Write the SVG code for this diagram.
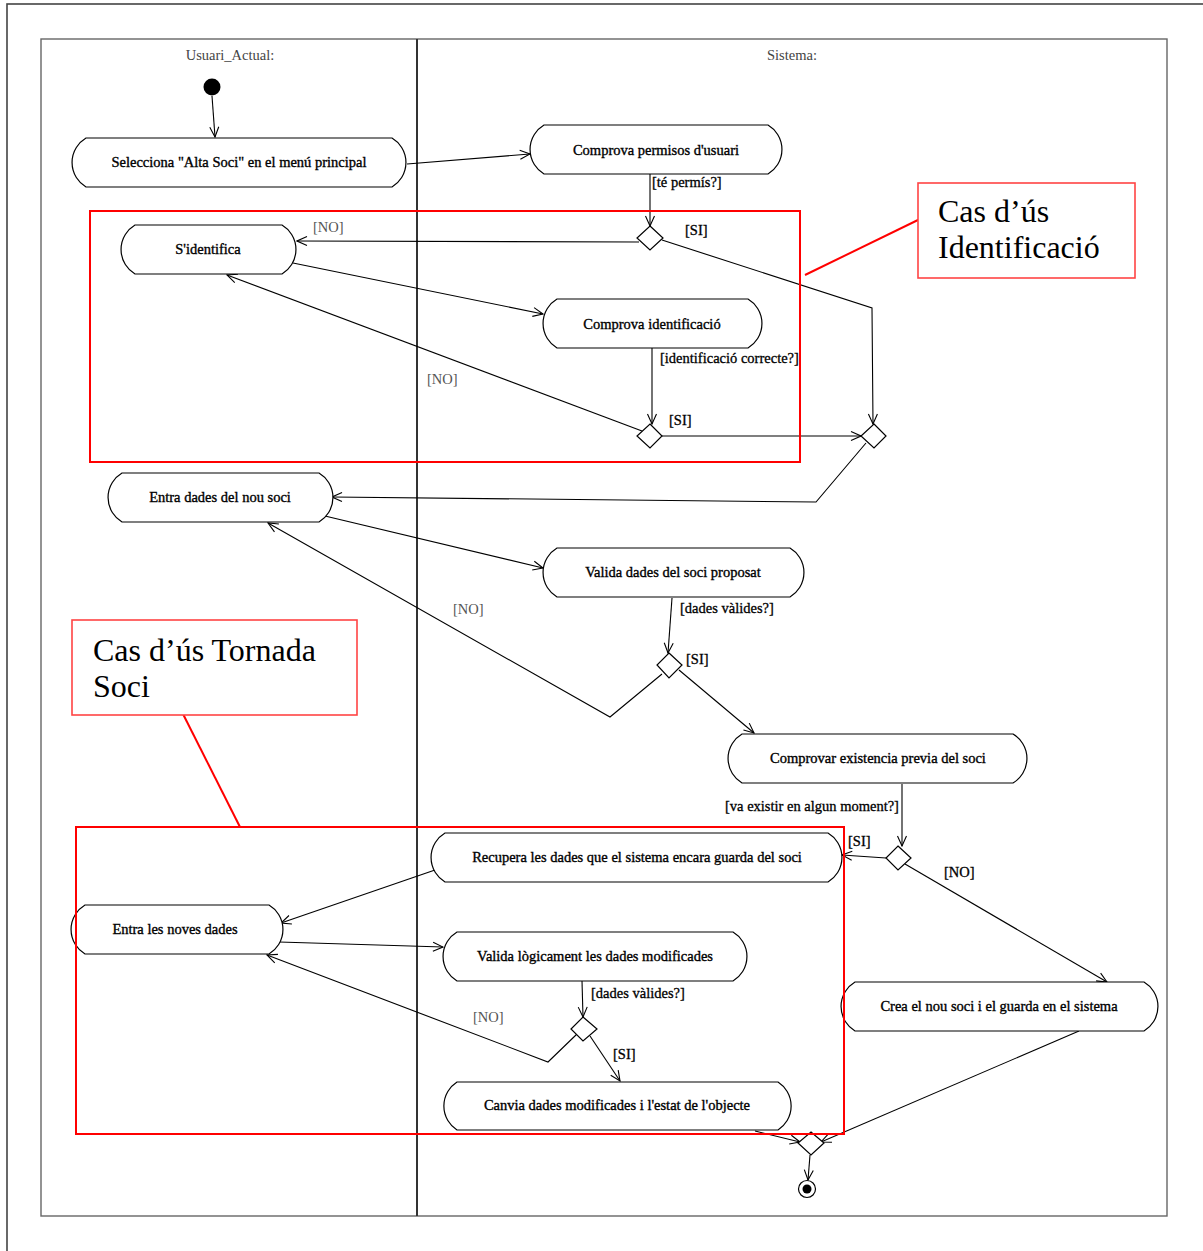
<svg xmlns="http://www.w3.org/2000/svg" width="1203" height="1251" viewBox="0 0 1203 1251">
  <style>
    text { font-family: "Liberation Serif", "Times New Roman", serif; font-size: 14.5px; }
    .lane-title { fill: #444; text-anchor: middle; }
    .label { fill: #000; stroke: #000; stroke-width: 0.35; text-anchor: middle; }
    .guard { fill: #000; stroke: #000; stroke-width: 0.3; }
    .guard-no { fill: #555; }
    .action { fill: #fff; stroke: #000; stroke-width: 1.2; }
    .decision { fill: #fff; stroke: #000; stroke-width: 1.2; }
    .flow { fill: none; stroke: #000; stroke-width: 1.1; marker-end: url(#arrow); }
    .note-box { fill: none; stroke: #f00; stroke-width: 2; }
    .note-text { font-size: 32px; fill: #000; }
  </style>
  <defs>
    <marker id="arrow" viewBox="0 0 12 12" refX="11" refY="6" markerWidth="12" markerHeight="12" markerUnits="userSpaceOnUse" orient="auto">
      <path d="M1,1.5 L11,6 L1,10.5" fill="none" stroke="#000" stroke-width="1.1"/>
    </marker>
  </defs>

  <rect x="0" y="0" width="1203" height="1251" fill="#fff"/>

  <!-- page frame -->
  <rect x="7" y="4" width="1200" height="1252" fill="none" stroke="#444" stroke-width="1.6"/>

  <!-- swimlanes -->
  <g id="swimlanes">
    <rect x="41" y="39" width="1126" height="1177" fill="none" stroke="#666" stroke-width="1.4"/>
    <line x1="417" y1="39" x2="417" y2="1216" stroke="#333" stroke-width="2"/>
    <text class="lane-title" x="230" y="60">Usuari_Actual:</text>
    <text class="lane-title" x="792" y="60">Sistema:</text>
  </g>

  <!-- connectors -->
  <g id="connectors">
    <line class="flow" x1="212" y1="96" x2="215" y2="137"/>
    <line class="flow" x1="407" y1="164" x2="530" y2="154"/>
    <line class="flow" x1="650" y1="174" x2="650" y2="226"/>
    <line class="flow" x1="639" y1="242" x2="297" y2="241"/>
    <polyline class="flow" points="662,240 872,308 873,424"/>
    <line class="flow" x1="293" y1="263" x2="543" y2="314"/>
    <line class="flow" x1="642" y1="431" x2="227" y2="275"/>
    <line class="flow" x1="652" y1="348" x2="652" y2="424"/>
    <line class="flow" x1="662" y1="436" x2="861" y2="436"/>
    <polyline class="flow" points="866,443 816,502 332,497"/>
    <line class="flow" x1="325" y1="516" x2="543" y2="568"/>
    <polyline class="flow" points="662,674 610,717 268,523"/>
    <line class="flow" x1="672" y1="598" x2="668" y2="653"/>
    <line class="flow" x1="679" y1="670" x2="754" y2="733"/>
    <line class="flow" x1="902" y1="784" x2="902" y2="846"/>
    <line class="flow" x1="886" y1="858" x2="842" y2="855"/>
    <line class="flow" x1="905" y1="864" x2="1107" y2="982"/>
    <line class="flow" x1="435" y1="870" x2="281" y2="923"/>
    <line class="flow" x1="279" y1="942" x2="443" y2="947"/>
    <polyline class="flow" points="577,1034 548,1062 267,955"/>
    <line class="flow" x1="582" y1="981" x2="583" y2="1017"/>
    <line class="flow" x1="590" y1="1036" x2="620" y2="1081"/>
    <line class="flow" x1="755" y1="1131" x2="800" y2="1142"/>
    <line class="flow" x1="1079" y1="1031" x2="821" y2="1142"/>
    <line class="flow" x1="810" y1="1155" x2="808" y2="1180"/>
  </g>

  <!-- guard labels -->
  <g id="guards">
    <text class="guard" x="652" y="187">[té permís?]</text>
    <text class="guard" x="685" y="235">[SI]</text>
    <text class="guard-no" x="313" y="232">[NO]</text>
    <text class="guard" x="660" y="363">[identificació correcte?]</text>
    <text class="guard-no" x="427" y="384">[NO]</text>
    <text class="guard" x="669" y="425">[SI]</text>
    <text class="guard-no" x="453" y="614">[NO]</text>
    <text class="guard" x="680" y="613">[dades vàlides?]</text>
    <text class="guard" x="686" y="664">[SI]</text>
    <text class="guard" x="725" y="811">[va existir en algun moment?]</text>
    <text class="guard" x="848" y="846">[SI]</text>
    <text class="guard" x="944" y="877">[NO]</text>
    <text class="guard" x="591" y="998">[dades vàlides?]</text>
    <text class="guard-no" x="473" y="1022">[NO]</text>
    <text class="guard" x="613" y="1059">[SI]</text>
  </g>

  <!-- initial node -->
  <g id="start">
    <circle cx="212" cy="87" r="8.5" fill="#000"/>
  </g>

  <!-- action nodes -->
  <g id="selecciona-alta-soci">
    <path class="action" d="M86,138 H392 A28.5,28.5 0 0 1 392,187 H86 A28.5,28.5 0 0 1 86,138 Z"/>
    <text class="label" x="239" y="167">Selecciona "Alta Soci" en el menú principal</text>
  </g>
  <g id="comprova-permisos">
    <path class="action" d="M544,125 H768 A28.5,28.5 0 0 1 768,174 H544 A28.5,28.5 0 0 1 544,125 Z"/>
    <text class="label" x="656" y="155">Comprova permisos d'usuari</text>
  </g>
  <g id="s-identifica">
    <path class="action" d="M135,225 H282 A28.5,28.5 0 0 1 282,274 H135 A28.5,28.5 0 0 1 135,225 Z"/>
    <text class="label" x="208" y="254">S'identifica</text>
  </g>
  <g id="comprova-identificacio">
    <path class="action" d="M557,299 H748 A28.5,28.5 0 0 1 748,348 H557 A28.5,28.5 0 0 1 557,299 Z"/>
    <text class="label" x="652" y="329">Comprova identificació</text>
  </g>
  <g id="entra-dades-nou-soci">
    <path class="action" d="M122,473 H319 A28.5,28.5 0 0 1 319,522 H122 A28.5,28.5 0 0 1 122,473 Z"/>
    <text class="label" x="220" y="502">Entra dades del nou soci</text>
  </g>
  <g id="valida-dades-soci">
    <path class="action" d="M557,548 H790 A28.5,28.5 0 0 1 790,597 H557 A28.5,28.5 0 0 1 557,548 Z"/>
    <text class="label" x="673" y="577">Valida dades del soci proposat</text>
  </g>
  <g id="comprovar-existencia">
    <path class="action" d="M742,734 H1013 A28.5,28.5 0 0 1 1013,783 H742 A28.5,28.5 0 0 1 742,734 Z"/>
    <text class="label" x="878" y="763">Comprovar existencia previa del soci</text>
  </g>
  <g id="recupera-dades">
    <path class="action" d="M445,833 H828 A28.5,28.5 0 0 1 828,882 H445 A28.5,28.5 0 0 1 445,833 Z"/>
    <text class="label" x="637" y="862">Recupera les dades que el sistema encara guarda del soci</text>
  </g>
  <g id="entra-noves-dades">
    <path class="action" d="M85,905 H269 A28.5,28.5 0 0 1 269,954 H85 A28.5,28.5 0 0 1 85,905 Z"/>
    <text class="label" x="175" y="934">Entra les noves dades</text>
  </g>
  <g id="valida-logicament">
    <path class="action" d="M457,932 H733 A28.5,28.5 0 0 1 733,981 H457 A28.5,28.5 0 0 1 457,932 Z"/>
    <text class="label" x="595" y="961">Valida lògicament les dades modificades</text>
  </g>
  <g id="crea-nou-soci">
    <path class="action" d="M855,982 H1144 A28.5,28.5 0 0 1 1144,1031 H855 A28.5,28.5 0 0 1 855,982 Z"/>
    <text class="label" x="999" y="1011">Crea el nou soci i el guarda en el sistema</text>
  </g>
  <g id="canvia-dades">
    <path class="action" d="M457,1082 H778 A28.5,28.5 0 0 1 778,1130 H457 A28.5,28.5 0 0 1 457,1082 Z"/>
    <text class="label" x="617" y="1110">Canvia dades modificades i l'estat de l'objecte</text>
  </g>

  <!-- decision nodes -->
  <g id="decisio-permis"><path class="decision" d="M650,226 L663,238 L650,250 L637,238 Z"/></g>
  <g id="decisio-identificacio"><path class="decision" d="M650,424 L662,436 L650,448 L637,436 Z"/></g>
  <g id="merge-identificacio"><path class="decision" d="M874,424 L886,436 L874,448 L861,436 Z"/></g>
  <g id="decisio-dades"><path class="decision" d="M669,653 L682,665 L669,678 L657,665 Z"/></g>
  <g id="decisio-existencia"><path class="decision" d="M898,846 L911,858 L898,870 L886,858 Z"/></g>
  <g id="decisio-dades-modificades"><path class="decision" d="M583,1017 L597,1029 L583,1041 L571,1029 Z"/></g>
  <g id="merge-final"><path class="decision" d="M811,1132 L824,1143 L811,1155 L798,1143 Z"/></g>

  <!-- final node -->
  <g id="end">
    <circle cx="807" cy="1189" r="8.5" fill="#fff" stroke="#000" stroke-width="1.2"/>
    <circle cx="807" cy="1189" r="4.5" fill="#000"/>
  </g>

  <!-- use case annotations -->
  <g id="cas-us-identificacio">
    <rect class="note-box" x="90" y="211" width="710" height="251"/>
    <line x1="805" y1="275" x2="920" y2="219" stroke="#f00" stroke-width="2"/>
    <rect x="918" y="183" width="217" height="95" fill="#fff" stroke="#f44" stroke-width="1.6"/>
    <text class="note-text" x="938" y="222">Cas d’ús</text>
    <text class="note-text" x="938" y="258">Identificació</text>
  </g>
  <g id="cas-us-tornada-soci">
    <rect class="note-box" x="76" y="827" width="768" height="307"/>
    <line x1="182" y1="712" x2="240" y2="827" stroke="#f00" stroke-width="2"/>
    <rect x="72" y="620" width="285" height="95" fill="#fff" stroke="#f44" stroke-width="1.6"/>
    <text class="note-text" x="93" y="661">Cas d’ús Tornada</text>
    <text class="note-text" x="93" y="697">Soci</text>
  </g>
</svg>
